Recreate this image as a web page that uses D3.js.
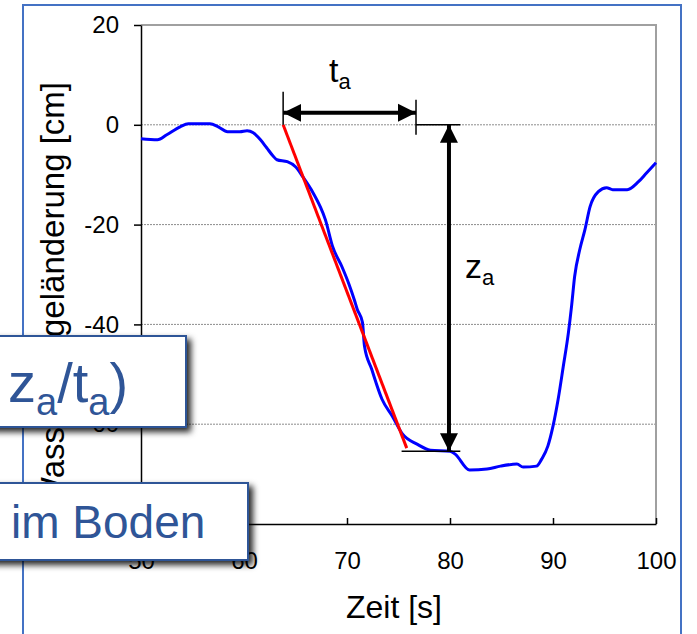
<!DOCTYPE html>
<html>
<head>
<meta charset="utf-8">
<script src="https://cdn.jsdelivr.net/npm/d3@7"></script>
<style>
  body { margin: 0; background: #fff; }
  svg { display: block; font-family: "Liberation Sans", Arial, sans-serif; }
</style>
</head>
<body>
<svg></svg>
<script>
// Messreihe: Zeit [s] und Wasserspiegeländerung [cm]
let times = [50.0, 51.6, 52.5, 53.8, 54.6, 56.7, 57.5, 58.4, 59.6, 60.3, 60.9, 61.6, 62.2, 62.8, 63.2,
  64.2, 65.0, 65.7, 66.7, 67.4, 67.9, 68.6, 69.5, 70.2, 70.7, 71.0, 71.5, 71.7, 72.4, 73.4, 74.4,
  75.4, 76.8, 78.1, 80.0, 80.5, 81.9, 83.6, 84.9, 86.5, 87.1, 88.4, 88.9, 89.5, 90.0, 90.5, 91.0,
  91.5, 91.8, 92.1, 92.6, 93.1, 93.6, 94.4, 95.2, 95.8, 97.2, 98.3, 99.1, 100.0];
let levels = [-2.8, -3.0, -2.0, -0.4, 0.2, 0.2, -0.4, -1.4, -1.4, -1.2, -1.6, -3.0, -4.6, -6.2, -7.0,
  -7.4, -8.4, -10.4, -13.6, -16.4, -19.0, -24.4, -28.4, -32.0, -35.0, -37.0, -39.6, -44.4, -49.0, -55.0, -58.4,
  -62.0, -64.0, -65.2, -65.4, -66.0, -69.2, -69.0, -68.4, -68.0, -68.6, -68.4, -67.0, -64.4, -60.4, -55.0, -48.4,
  -41.6, -36.4, -30.4, -25.0, -21.0, -16.4, -13.4, -12.6, -13.0, -13.0, -11.4, -9.6, -7.6];

// Achsen
let xTicks = [50, 60, 70, 80, 90, 100];
let yTicks = [-80, -60, -40, -20, 0, 20];

// Ausgleichsgerade und Bemaßung (t_a, z_a)
let fitTimes = [63.8, 75.8];
let fitLevels = [0, -64.8];
let taTimes = [63.8, 76.7];
let taLevel = 2.4;
let zaTime = 79.9;
let zaLevels = [0, -65.4];

let svgWidth = 697, svgHeight = 634;
let plotLeft = 141, plotRight = 656, plotTop = 25, plotBottom = 524;

let svg = d3.select('svg').attr('width', svgWidth).attr('height', svgHeight);

let defs = svg.append('defs');
defs.append('filter').attr('id', 'shadow')
  .attr('x', '-20%').attr('y', '-20%').attr('width', '140%').attr('height', '160%')
  .append('feDropShadow')
  .attr('dx', 4).attr('dy', 4).attr('stdDeviation', 3)
  .attr('flood-color', '#000').attr('flood-opacity', 0.85);
defs.append('marker').attr('id', 'head')
  .attr('viewBox', '0 0 10 10').attr('refX', 10).attr('refY', 5)
  .attr('markerUnits', 'userSpaceOnUse')
  .attr('markerWidth', 18).attr('markerHeight', 20)
  .attr('orient', 'auto-start-reverse')
  .append('path').attr('d', 'M0,0 L10,5 L0,10 Z').attr('fill', '#000');

let x = d3.scaleLinear().domain([50, 100]).range([plotLeft, plotRight]);
let y = d3.scaleLinear().domain([-80, 20]).range([plotBottom, plotTop]);

// Rahmen der Folie
svg.append('path')
  .attr('d', `M23,${svgHeight} V5 H681 V${svgHeight}`)
  .attr('fill', 'none').attr('stroke', '#4472c4').attr('stroke-width', 2);

// Gitterlinien
svg.append('g').selectAll('line')
  .data(yTicks.filter(d => d > -80 && d < 20))
  .enter().append('line')
  .attr('x1', plotLeft).attr('x2', plotRight)
  .attr('y1', d => y(d)).attr('y2', d => y(d))
  .attr('stroke', '#8c8c8c').attr('stroke-width', 1).attr('stroke-dasharray', '2,1');
svg.append('path')
  .attr('d', `M${plotLeft},${y(20)} H${x(100)} V${y(-80)}`)
  .attr('fill', 'none').attr('stroke', '#a0a0a0').attr('stroke-width', 2);

// x-Achse
let xAxis = svg.append('g')
  .attr('transform', `translate(0,${plotBottom})`)
  .call(d3.axisBottom(x).tickValues(xTicks).tickSizeInner(-6).tickSizeOuter(0).tickPadding(28));
xAxis.select('.domain').attr('stroke', '#000').attr('stroke-width', 1.5);
xAxis.selectAll('.tick line').attr('stroke', '#000').attr('stroke-width', 1.5);
xAxis.selectAll('text').attr('font-size', 24).attr('fill', '#000');
xAxis.attr('font-family', null);

// y-Achse
let yAxis = svg.append('g')
  .attr('transform', `translate(${plotLeft},0)`)
  .call(d3.axisLeft(y).tickValues(yTicks).tickSizeInner(7).tickSizeOuter(0).tickPadding(15)
    .tickFormat(d => d < 0 ? '-' + Math.abs(d) : d));
yAxis.select('.domain').attr('stroke', '#000').attr('stroke-width', 1.5);
yAxis.selectAll('.tick line').attr('stroke', '#000').attr('stroke-width', 1.5);
yAxis.selectAll('text').attr('font-size', 24).attr('fill', '#000');
yAxis.attr('font-family', null);

// Achsentitel
svg.append('text')
  .attr('x', 394).attr('y', 618)
  .attr('text-anchor', 'middle').attr('font-size', 32)
  .text('Zeit [s]');
svg.append('text')
  .attr('transform', 'translate(64,82) rotate(-90)')
  .attr('text-anchor', 'end').attr('font-size', 33)
  .text('Wasserspiegeländerung [cm]');

// Messkurve
let line = d3.line().x(d => x(d[0])).y(d => y(d[1])).curve(d3.curveMonotoneX);
svg.append('path')
  .datum(d3.zip(times, levels))
  .attr('d', line)
  .attr('fill', 'none').attr('stroke', '#0000ff').attr('stroke-width', 3);

// Ausgleichsgerade
svg.append('line')
  .attr('x1', x(fitTimes[0])).attr('y1', y(fitLevels[0]))
  .attr('x2', x(fitTimes[1])).attr('y2', y(fitLevels[1]))
  .attr('stroke', '#ff0000').attr('stroke-width', 3);

// Bemaßung t_a
let thin = (x1, y1, x2, y2) => svg.append('line')
  .attr('x1', x1).attr('y1', y1).attr('x2', x2).attr('y2', y2)
  .attr('stroke', '#000').attr('stroke-width', 1.5);
thin(x(taTimes[0]), y(taLevel + 4.2), x(taTimes[0]), y(0));
thin(x(taTimes[1]), y(taLevel + 2.6), x(taTimes[1]), y(-2));
svg.append('line')
  .attr('x1', x(taTimes[0])).attr('y1', y(taLevel))
  .attr('x2', x(taTimes[1])).attr('y2', y(taLevel))
  .attr('stroke', '#000').attr('stroke-width', 4)
  .attr('marker-start', 'url(#head)').attr('marker-end', 'url(#head)');
let taLabel = svg.append('text').attr('x', 329).attr('y', 82).attr('font-size', 34);
taLabel.append('tspan').text('t');
taLabel.append('tspan').attr('dy', 7).attr('font-size', 22).text('a');

// Bemaßung z_a
thin(x(taTimes[1]), y(zaLevels[0]), x(81), y(zaLevels[0]));
thin(x(75.3), y(zaLevels[1]), x(81), y(zaLevels[1]));
svg.append('line')
  .attr('x1', x(zaTime)).attr('y1', y(zaLevels[0]))
  .attr('x2', x(zaTime)).attr('y2', y(zaLevels[1]))
  .attr('stroke', '#000').attr('stroke-width', 4)
  .attr('marker-start', 'url(#head)').attr('marker-end', 'url(#head)');
let zaLabel = svg.append('text').attr('x', 465).attr('y', 278).attr('font-size', 34);
zaLabel.append('tspan').text('z');
zaLabel.append('tspan').attr('dy', 7).attr('font-size', 22).text('a');

// Textkästen der Folie (links abgeschnitten)
let boxColor = '#2f5597';
svg.append('rect')
  .attr('x', -20).attr('y', 336).attr('width', 206).attr('height', 91)
  .attr('fill', '#fff').attr('stroke', boxColor).attr('stroke-width', 2)
  .attr('filter', 'url(#shadow)');
let box1 = svg.append('text').attr('x', 8).attr('y', 402).attr('font-size', 56).attr('fill', boxColor);
box1.append('tspan').text('z');
box1.append('tspan').attr('dy', 13).attr('font-size', 38).text('a');
box1.append('tspan').attr('dy', -13).text('/t');
box1.append('tspan').attr('dy', 13).attr('font-size', 38).text('a');
box1.append('tspan').attr('dy', -13).text(')');

svg.append('rect')
  .attr('x', -20).attr('y', 483).attr('width', 268).attr('height', 77)
  .attr('fill', '#fff').attr('stroke', boxColor).attr('stroke-width', 2)
  .attr('filter', 'url(#shadow)');
svg.append('text')
  .attr('x', 11).attr('y', 538).attr('font-size', 46).attr('fill', boxColor)
  .text('im Boden');
</script>
</body>
</html>
